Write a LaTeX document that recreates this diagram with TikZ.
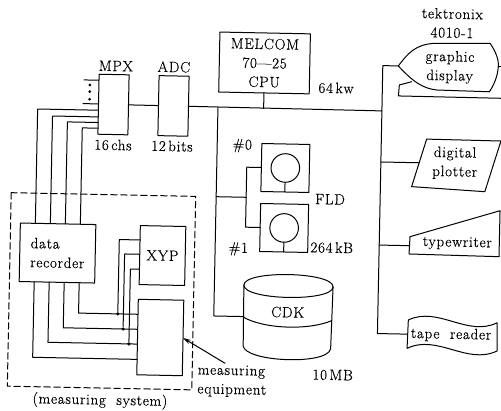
\documentclass[tikz,border=0pt]{standalone}
\usepackage{fontspec}
\setmainfont{Latin Modern Roman}[LetterSpace=5,FakeBold=0.4]
\usetikzlibrary{arrows.meta}
\begin{document}
\begin{tikzpicture}[x=1pt,y=-1pt,line join=round,line cap=round,>={Stealth[length=8pt,width=4.5pt]},line width=1pt,
		lab/.style={font=\fontsize{15}{19}\selectfont,inner sep=0pt,align=center},
		box/.style={draw,inner sep=0pt,outer sep=0pt,font=\fontsize{15}{19}\selectfont,align=center},
		joint/.style={circle,fill=black,inner sep=0pt,minimum size=3.6pt}]
	\useasboundingbox(0,0)rectangle(501,411);
	\begin{scope}[shift={(250.5,205.5)},rotate=-1.15,shift={(-250.5,-205.5)},transform shape]
		\node[box,minimum width=90.5,minimum height=60](cpu)at(261.7,62.7){MELCOM\\70---25\\CPU};
		\node[box,minimum width=30,minimum height=60](mpx)at(111.5,107.3){};
		\node[box,minimum width=30,minimum height=60](adc)at(171.5,107.5){};
		\node[lab](mpxname)at(113.2,68.7){MPX};
		\node[lab](adcname)at(171.2,68.5){ADC};
		\node[lab](mpxchs)at(111.8,147.7){16\,chs};
		\node[lab](adcbits)at(170.8,147.6){12\,bits};
		\node[lab](cpumem)at(333.7,86.3){64\,kw};
		% main bus
		\coordinate(busl)at(216,108.3);
		\coordinate(busr)at(380,108.3);
		\draw(mpx)--(adc);
		\draw(adc)--(busr);
		\draw(cpu)--(cpu|-busl);
		% floppy disks
		\foreach \n/\y in{fldz/167.3,fldo/227.3}{
			\node[box,minimum size=48](\n)at(284.6,\y){};
			\node[draw,circle,inner sep=0pt,minimum size=28.6](\n c)at(\n){};
			\draw(\n c.south)--(\n.south);
		}
		\coordinate(fldj)at(246,197.4);
		\draw(fldz.west)-|(fldj)|-(fldo.west);
		\draw(busl|-fldj)--(fldj);
		\node[lab](fldzname)at(241.1,145.9){\#0};
		\node[lab](fldoname)at(239.2,249.2){\#1};
		\node[lab](fldname)at(329.9,197.7){FLD};
		\node[lab](fldsize)at(332.6,246){264\,kB};
		% disk pack
		\coordinate(cdkl)at(245.5,285.2);
		\coordinate(cdkr)at(334.7,285.2);
		\draw(cdkl).. controls(245.5,270)and(334.7,270)..(cdkr).. controls(334.7,300.5)and(245.5,300.5)..(cdkl);
		\draw(cdkl)--(246,346).. controls(248,362)and(331,364)..(333.5,347)--(cdkr);
		\draw(246,317.5).. controls(268,329)and(312,329)..(334,319);
		\node[lab](cdk)at(289.8,311.5){CDK};
		\node[lab](cdksize)at(336.1,373.3){10\,MB};
		\draw(busl)|-(246,316.7);
		% measuring system
		\draw[dash pattern=on 6.5pt off 3.5pt](11,197.5)rectangle(195.5,391);
		\node[box,align=left,minimum width=75.5,minimum height=58.5](rec)at(58.5,256.9){data\\recorder};
		\node[box,minimum width=45.5,minimum height=59](xyp)at(163.5,257.3){XYP};
		\node[box,minimum width=45.5,minimum height=75.5](equip)at(162.95,339.3){};
		\foreach \i/\u in{1/24,2/17.3,3/11.7,4/6}{
			\draw([xshift=\i*15pt]rec.north west)|-([yshift=\u pt]mpx.south west);
		}
		\foreach \i/\u in{4/60.5,3/45.5,2/30.7,1/15.4}{
			\draw([xshift=\i*15pt]rec.south west)|-([yshift=\u pt]equip.south west);
		}
		\foreach \j/\x/\y/\u in{a/120/316.5/44.6,b/125.6/331.5/30.3,c/131.7/346.3/15.3}{
			\node[joint](\j)at(\x,\y){};
			\draw([yshift=\u pt]xyp.south west)-|(\j);
		}
		\coordinate(stubt)at(81.5,83.3);
		\coordinate(stubb)at(81,107);
		\draw(stubt)--(stubt-|mpx.west);
		\draw(stubb)--(stubb-|mpx.west);
		\foreach \y in{88.2,94.9,102.5}{
			\fill(87.5,\y)circle(1.5);
		}
		\node[lab,align=left](eqname)at(235.5,381.5){measuring\\equipment};
		\coordinate(eqtail)at(228.2,363.8);
		\draw[->](eqtail)--(equip.east);
		\node[lab](sysname)at(103.9,403.8){(measuring\ \ system)};
		% graphic display
		\coordinate(distip)at(395.5,63);
		\coordinate(disr)at(495.5,61.7);
		\draw(distip).. controls(405,50)and(412,41)..(432,39.6)--(486.8,38.5).. controls(492,46)and(496,54)..(disr).. controls(495,72)and(491,81)..(487,87)--(434.4,86.3).. controls(420,85)and(410,78)..(distip);
		\draw(409.2,78.5)--(396.9,82)--(396.2,93)--(504,93.3);
		\draw(disr)--(504,61.7);
		\node[lab](disname)at(447,63.2){graphic\\display};
		\node[lab](distype)at(448.5,19.1){tektronix\\4010-1};
		% plotter
		\coordinate(plotl)at(418.2,159.4);
		\draw(425.3,135.6)--(499.6,136)--(484.5,187)--(411.2,183.4)--cycle;
		\node[lab](plotname)at(454,159){digital\\plotter};
		% typewriter
		\coordinate(typel)at(410.3,242.5);
		\draw(410.6,233.5)--(500.1,205.7)--(500,251.7)--(410,250.8)--cycle;
		\node[lab](typename)at(458,239.2){typewriter};
		% tape reader
		\coordinate(tapel)at(410.2,331);
		\draw(410.6,316.8).. controls(440,302)and(470,333)..(499.4,317.8)--(500,346).. controls(470,361)and(440,330)..(409.9,345.2)--cycle;
		\node[lab](tapename)at(453.6,331){tape\ \ reader};
		% peripheral bus
		\draw(distip)-|(tapel-|busr)--(tapel);
		\draw(busr|-plotl)--(plotl);
		\draw(busr|-typel)--(typel);
	\end{scope}
\end{tikzpicture}
\end{document}
